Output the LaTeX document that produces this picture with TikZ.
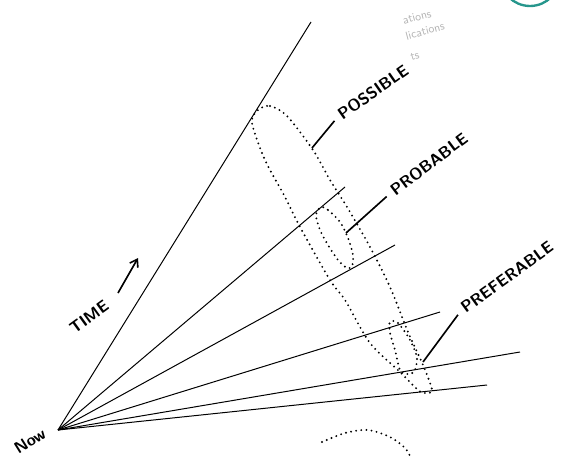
\documentclass[tikz,border=0pt]{standalone}
\usetikzlibrary{arrows.meta}
\definecolor{tealring}{RGB}{38,150,140}

\begin{document}
\begin{tikzpicture}[x=0.03cm, y=-0.03cm, >={Straight Barb[length=6pt, width=8pt]},
    ray/.style={line width=0.85pt},
    cone/.style={line width=1.8pt, line cap=round, dash pattern=on 0pt off 4.4pt},
    lead/.style={line width=1.4pt, shorten <=5pt},
    hand/.style={font=\sffamily\bfseries\fontsize{14}{14}\selectfont, inner sep=1pt},
    ghost/.style={font=\sffamily\fontsize{10}{10}\selectfont, text=gray!60, inner sep=0pt, rotate=15}]

    \useasboundingbox (0,0) rectangle (571,457);
    \clip (0,0) rectangle (571,457);

    \coordinate (now) at (58,430);
    \coordinate (r1) at (311,22);
    \coordinate (r2) at (345,187);
    \coordinate (r3) at (395,245);
    \coordinate (r4) at (440,312);
    \coordinate (r5) at (520,352);
    \coordinate (r6) at (487,385);

    \foreach \i in {1,...,6}
        \draw[ray] (now) -- (r\i);

    % futures cones
    \draw[cone] plot[smooth cycle] coordinates {(258,110) (270,106) (287,116) (313,150) (330,180)
        (347,207) (370,247) (390,287) (408,332) (423,365) (432,390) (425,393) (418,390)
        (400,372) (370,343) (345,300) (330,280) (300,227) (285,197) (265,160) (252,123)};
    \draw[cone] plot[smooth cycle] coordinates {(321,207) (328,210) (340,222) (348,238)
        (353,255) (352,266) (347,268) (338,260) (328,245) (320,230) (316,215)};
    \draw[cone] plot[smooth cycle] coordinates {(390,322) (398,323) (410,340) (417,358)
        (414,372) (407,374) (400,370) (395,350) (390,333)};
    \draw[cone] plot[smooth] coordinates {(322,442) (345,433) (368,430) (390,437) (405,448) (411,458)};

    \node[hand, rotate=35] (possible) at (373,92) {POSSIBLE};
    \node[hand, rotate=37] (probable) at (429,164) {PROBABLE};
    \node[hand, rotate=36] (preferable) at (507,277) {PREFERABLE};
    \node[hand, rotate=36] (time) at (89,317) {TIME};
    \node[hand, rotate=32] (nowlabel) at (30,441) {Now};

    \coordinate (possible-tip) at (312,148);
    \coordinate (probable-tip) at (346,233);
    \coordinate (preferable-tip) at (423,362);
    \draw[lead] (possible.west) -- (possible-tip);
    \draw[lead] (probable.west) -- (probable-tip);
    \draw[lead] (preferable.west) -- (preferable-tip);

    \coordinate (time-from) at (118,293);
    \coordinate (time-to) at (138,258);
    \draw[->, line width=1.4pt] (time-from) -- (time-to);

    % bits of the page behind
    \node[ghost] (ghost1) at (417,17) {ations};
    \node[ghost] (ghost2) at (425,31) {lications};
    \node[ghost] (ghost3) at (415,56) {ts};
    \draw[tealring, line width=2pt] (530,-24) circle[radius=30];
\end{tikzpicture}
\end{document}
